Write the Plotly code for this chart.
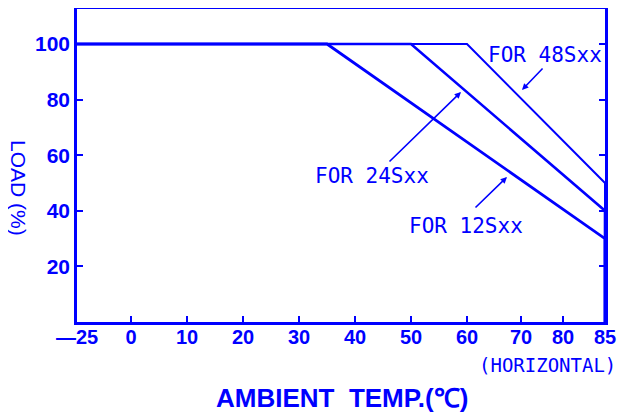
import numpy as np
import plotly.graph_objects as go

# ---- data ----
temps_12 = [-25, 35, 85, 85]
load_12 = [100, 100, 30, 0]
temps_24 = [-25, 50, 85, 85]
load_24 = [100, 100, 40, 0]
temps_48 = [-25, 60, 85, 85]
load_48 = [100, 100, 50, 0]

x_ticks = [-25, 0, 10, 20, 30, 40, 50, 60, 70, 80, 85]
y_ticks = [20, 40, 60, 80, 100]

# ---- non-linear temperature scale of the original drawing ----
SCALE_POS = [0, 54, 110, 166, 222, 278, 334, 390, 444, 486, 528]


def tx(t):
    return np.interp(t, x_ticks, SCALE_POS)


BLUE = "#0000FF"
fig = go.Figure()
for t, l, w in [(temps_12, load_12, 2.8), (temps_24, load_24, 2.6), (temps_48, load_48, 2)]:
    fig.add_trace(go.Scatter(x=tx(t), y=l, mode="lines",
                             line=dict(color=BLUE, width=w), showlegend=False,
                             hoverinfo="skip"))

OFF = 8  # page body margin
FW, FH = 626, 413
L, T, W, H = 77 - OFF, 9 - OFF, 528, 313
fig.update_layout(
    width=FW, height=FH,
    margin=dict(l=L, r=FW - L - W, t=T, b=FH - T - H, autoexpand=False),
    plot_bgcolor="white", paper_bgcolor="white",
    showlegend=False,
)
fig.update_xaxes(range=[0, 528], tickvals=tx(x_ticks),
                 ticktext=["\u201425" if v == -25 else str(v) for v in x_ticks],
                 ticks="inside", ticklen=6, tickwidth=2, tickcolor=BLUE,
                 ticklabelstandoff=-5,
                 showline=True, linewidth=2.5, linecolor=BLUE, mirror=True,
                 showgrid=False, zeroline=False,
                 tickfont=dict(family="Liberation Sans", size=20, color=BLUE, weight="bold"))
fig.update_yaxes(range=[0, 112.6], tickvals=y_ticks,
                 ticks="inside", ticklen=6, tickwidth=2, tickcolor=BLUE,
                 showline=True, linewidth=2.5, linecolor=BLUE, mirror="ticks",
                 showgrid=False, zeroline=False,
                 tickfont=dict(family="Liberation Sans", size=21, color=BLUE, weight="bold"))


def px(x):
    return (x - OFF - L) / W


def py(y):
    return (T + H - (y - OFF)) / H


def ann(**kw):
    fig.add_annotation(xref="paper", yref="paper", xanchor="center", yanchor="middle", **kw)


mono = dict(family="DejaVu Sans Mono", size=21, color=BLUE)
labels = [("FOR 48Sxx", 545, 55), ("FOR 24Sxx", 372, 176), ("FOR 12Sxx", 466, 226)]
for txt, x, y in labels:
    ann(text=txt, x=px(x), y=py(y), showarrow=False, font=mono)

arrows = [(522, 90, 22, -23), (461, 92, -73, 71), (507, 177, -33, 32)]
for x, y, ax, ay in arrows:
    ann(text="", x=px(x), y=py(y), ax=ax, ay=ay, showarrow=True, arrowhead=2,
        arrowsize=0.8, arrowwidth=1.6, arrowcolor=BLUE)

ann(text="(HORIZONTAL)", x=px(547), y=py(365), showarrow=False,
    font=dict(family="DejaVu Sans Mono", size=19, color=BLUE))
ann(text="AMBIENT  TEMP.(\u2103)", x=px(342), y=py(398), showarrow=False,
    font=dict(family="Liberation Sans", size=26, color=BLUE, weight="bold"))
ann(text="LOAD (%)", x=px(19), y=py(188), showarrow=False, textangle=90,
    font=dict(family="Liberation Sans", size=21, color=BLUE))

fig.write_html("out.html")
